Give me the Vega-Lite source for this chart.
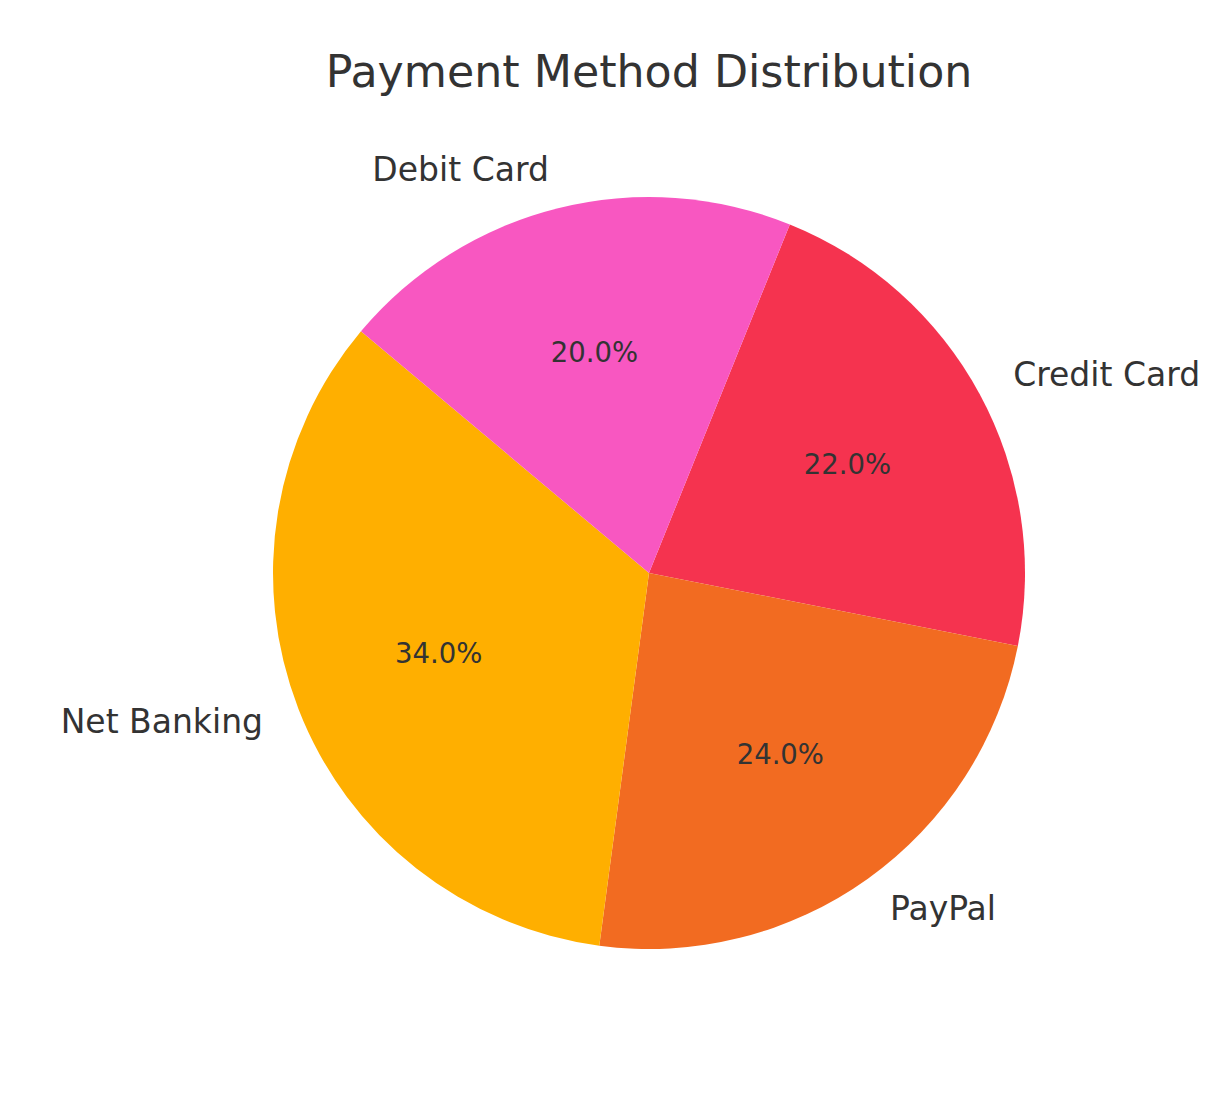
{
  "$schema": "https://vega.github.io/schema/vega-lite/v6.json",
  "width": 1132,
  "height": 946,
  "autosize": "none",
  "padding": {"left": 83, "top": 100, "right": 0, "bottom": 50},
  "background": "white",
  "title": {
    "text": "Payment Method Distribution",
    "fontSize": 44.3,
    "font": "DejaVu Sans",
    "fontWeight": "normal",
    "color": "#333333",
    "anchor": "middle",
    "baseline": "alphabetic",
    "offset": -31
  },
  "data": {
    "values": [
      {"method": "Credit Card", "share": 0.22},
      {"method": "PayPal", "share": 0.24},
      {"method": "Net Banking", "share": 0.34},
      {"method": "Debit Card", "share": 0.20}
    ]
  },
  "encoding": {
    "theta": {
      "field": "share",
      "type": "quantitative",
      "stack": true,
      "scale": {"range": [1.76627, 8.04945]}
    },
    "order": {"field": "method", "sort": "descending"}
  },
  "layer": [
    {
      "mark": {"type": "arc", "outerRadius": 376},
      "encoding": {
        "color": {
          "field": "method",
          "type": "nominal",
          "scale": {
            "domain": ["Credit Card", "PayPal", "Net Banking", "Debit Card"],
            "range": ["#F5334F", "#F26B21", "#FFAF00", "#F857C1"]
          },
          "legend": null
        }
      }
    },
    {
      "mark": {
        "type": "text",
        "radius": 414,
        "fontSize": 33,
        "font": "DejaVu Sans",
        "fill": "#333333",
        "baseline": "middle",
        "align": {"expr": "datum.method == 'Credit Card' || datum.method == 'PayPal' ? 'left' : 'right'"}
      },
      "encoding": {"text": {"field": "method", "type": "nominal"}}
    },
    {
      "mark": {
        "type": "text",
        "radius": 225.6,
        "fontSize": 27.5,
        "font": "DejaVu Sans",
        "fill": "#333333",
        "baseline": "middle",
        "align": "center"
      },
      "encoding": {"text": {"field": "share", "type": "quantitative", "format": ".1%"}}
    }
  ],
  "view": {"stroke": null}
}
